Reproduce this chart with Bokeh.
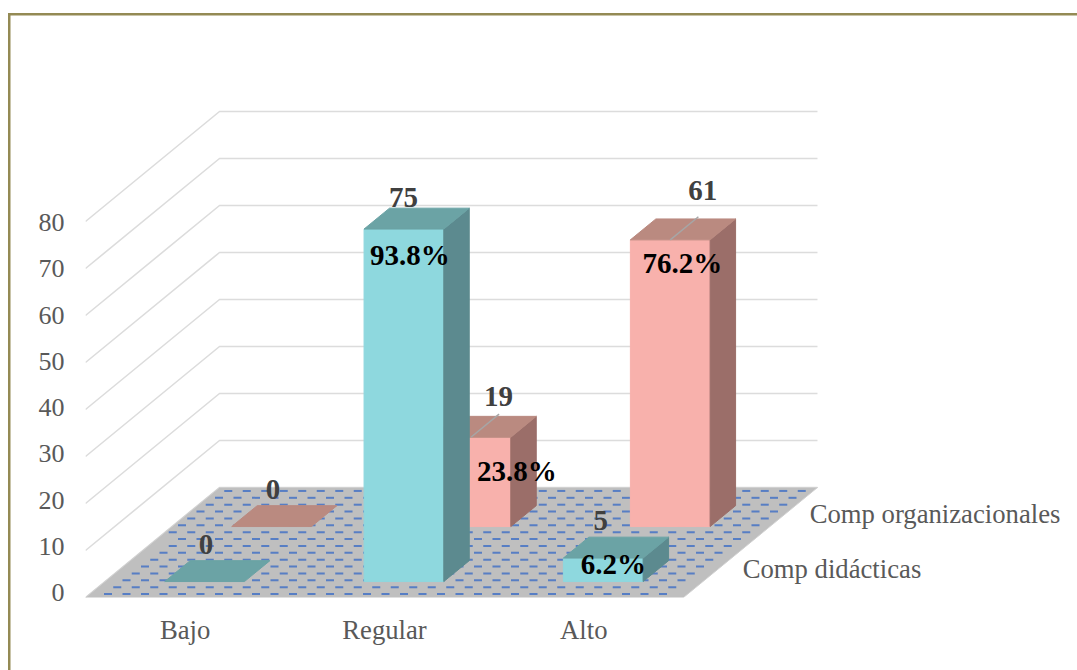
from bokeh.plotting import figure
from bokeh.models import Range1d, LinearAxis, FixedTicker
from bokeh.core.properties import value
from bokeh.embed import file_html
from bokeh.resources import INLINE

categories = ["Bajo", "Regular", "Alto"]
series_names = ["Comp didácticas", "Comp organizacionales"]
didacticas = [0, 75, 5]
organizacionales = [0, 19, 61]
pct_didacticas = ["", "93.8%", "6.2%"]
pct_organizacionales = ["", "23.8%", "76.2%"]
y_ticks = [0, 10, 20, 30, 40, 50, 60, 70, 80]

# chart scale and oblique projection
PX_CAT = 199.33
PX_VAL = 4.7
W, H = 1077, 670
LEFT, BOTTOM = 85, 73
DX = 134 / PX_CAT
DY = 110 / PX_VAL
BAR_W = 0.4
SERIES_DEPTH = [(0.145, 0.335), (0.645, 0.835)]
FONT = value("Liberation Serif")
FRAME = "#948a54"

def proj(cx, v, d):
    return cx + d * DX, v + d * DY

frame_w = W - LEFT
frame_h = H - BOTTOM
p = figure(width=W, height=H, output_backend="svg", toolbar_location=None,
           x_range=Range1d(0, frame_w / PX_CAT), y_range=Range1d(0, frame_h / PX_VAL),
           min_border_left=LEFT, min_border_right=0, min_border_top=0, min_border_bottom=BOTTOM,
           x_axis_location=None, y_axis_location=None)
p.grid.visible = False
p.outline_line_color = None
# the chart's outer frame sits behind a transparent canvas
p.border_fill_color = None
p.background_fill_color = None
p.styles = {"background":
            f"linear-gradient({FRAME},{FRAME}) 8px 13px/2.5px {H - 13}px no-repeat, "
            f"linear-gradient({FRAME},{FRAME}) 8px 13px/{W - 8}px 2.5px no-repeat, #ffffff"}

# walls
for t in y_ticks:
    a = proj(0, t, 0); b = proj(0, t, 1); c = proj(3, t, 1)
    p.line([a[0], b[0], c[0]], [a[1], b[1], c[1]], line_color="#dcdcdc", line_width=1.6)

# floor
corners = [proj(0, 0, 0), proj(3, 0, 0), proj(3, 0, 1), proj(0, 0, 1)]
p.patch([q[0] for q in corners], [q[1] for q in corners], fill_color="#bfbfbf", line_color="#d0d0d0")
ROWS = 16
PERIOD = 18.5 / PX_CAT
DASH = 8 / PX_CAT
x0s, x1s, ys = [], [], []
for j in range(ROWS):
    d = (j + 0.5) / ROWS
    xl = proj(0, 0, d)[0] + 3 / PX_CAT
    xr = proj(3, 0, d)[0] - 3 / PX_CAT
    x = (j % 2) * PERIOD / 2
    while x + DASH < xr:
        if x > xl:
            x0s.append(x); x1s.append(x + DASH); ys.append(proj(0, 0, d)[1])
        x += PERIOD
p.segment(x0s, ys, x1s, ys, line_color="#4472c4", line_width=2, line_alpha=0.85)

# bars, back series first
def bars(vals, depth, front, top, side):
    d0, d1 = depth
    for i, v in enumerate(vals):
        c = i + 0.5
        xa, xb = c - BAR_W / 2, c + BAR_W / 2
        if v > 0:
            q = [proj(xa, 0, d0), proj(xb, 0, d0), proj(xb, v, d0), proj(xa, v, d0)]
            p.patch([r[0] for r in q], [r[1] for r in q], fill_color=front, line_color=front)
            q = [proj(xb, 0, d0), proj(xb, 0, d1), proj(xb, v, d1), proj(xb, v, d0)]
            p.patch([r[0] for r in q], [r[1] for r in q], fill_color=side, line_color=side)
        q = [proj(xa, v, d0), proj(xb, v, d0), proj(xb, v, d1), proj(xa, v, d1)]
        p.patch([r[0] for r in q], [r[1] for r in q], fill_color=top, line_color=top)

bars(organizacionales, SERIES_DEPTH[1], "#f8b1ac", "#ba8a80", "#9b6e69")
bars(didacticas, SERIES_DEPTH[0], "#8ed8de", "#6ba3a5", "#5c8a8f")

# leader lines
for i, v in [(1, organizacionales[1]), (2, organizacionales[2])]:
    a = proj(i + 0.5, v, SERIES_DEPTH[1][0]); b = proj(i + 0.5, v, SERIES_DEPTH[1][1] + 0.02)
    p.line([a[0], b[0]], [a[1], b[1]], line_color="#a6a6a6", line_width=1.5)

# data labels
def labels(vals, pcts, depth, n_off, p_off):
    d0, d1 = depth
    for i, v in enumerate(vals):
        x, y = proj(i + 0.5, v, d1)
        p.text([x], [y], text=[str(v)], text_font=FONT, text_font_style="bold", text_font_size="29px",
               text_color="#404040", text_align="center", text_baseline="middle",
               x_offset=n_off[i][0], y_offset=n_off[i][1])
        if pcts[i]:
            x, y = proj(i + 0.5, v, d0)
            p.text([x], [y], text=[pcts[i]], text_font=FONT, text_font_style="bold", text_font_size="29px",
                   text_color="#000000", text_align="center", text_baseline="middle",
                   x_offset=p_off[i][0], y_offset=p_off[i][1])

labels(organizacionales, pct_organizacionales, SERIES_DEPTH[1],
       [(-24, -16), (2, -20), (7, -28)], [(0, 0), (46, 34), (12, 23)])
labels(didacticas, pct_didacticas, SERIES_DEPTH[0],
       [(-24, -16), (-26, -11), (-28, -17)], [(0, 0), (6, 26), (10, 6)])

# series labels at the right of the floor
for name, dep, off in [(series_names[0], SERIES_DEPTH[0], 27), (series_names[1], SERIES_DEPTH[1], 27)]:
    x, y = proj(3, 0, (dep[0] + dep[1]) / 2)
    p.text([x], [y], text=[name], text_font=FONT, text_font_size="26.7px", text_color="#595959",
           text_align="left", text_baseline="middle", x_offset=off, y_offset=-2)

# axes
label_axis_start = -5 / 4.625
p.extra_y_ranges = {"labels": Range1d(label_axis_start, label_axis_start + frame_h / 4.625)}
yax = LinearAxis(y_range_name="labels", ticker=FixedTicker(ticks=y_ticks), axis_line_color=None,
                 major_tick_line_color=None, minor_tick_line_color=None, major_label_standoff=15,
                 major_label_text_font="Liberation Serif", major_label_text_font_size="26px",
                 major_label_text_color="#595959")
p.add_layout(yax, "left")
xax = LinearAxis(ticker=FixedTicker(ticks=[i + 0.5 for i in range(len(categories))]),
                 major_label_overrides={i + 0.5: c for i, c in enumerate(categories)},
                 axis_line_color=None, major_tick_line_color=None, minor_tick_line_color=None,
                 major_label_standoff=11, major_label_text_font="Liberation Serif",
                 major_label_text_font_size="26.7px", major_label_text_color="#595959")
p.add_layout(xax, "below")

open("out.html", "w").write(file_html(p, INLINE))
